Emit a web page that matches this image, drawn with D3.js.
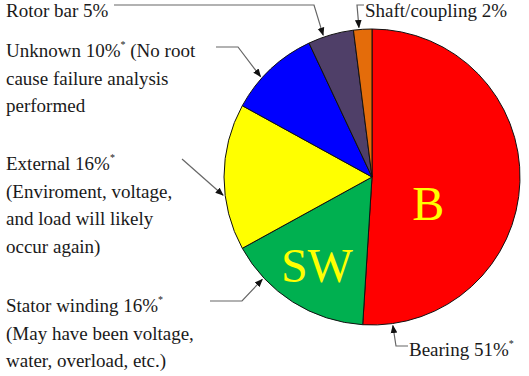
<!DOCTYPE html>
<html>
<head>
<meta charset="utf-8">
<script src="https://cdn.jsdelivr.net/npm/d3@7"></script>
<style>
  body { margin: 0; background: #fff; }
</style>
</head>
<body>
<svg id="chart" width="529" height="376"></svg>
<script>
// failure causes, clockwise from 12 o'clock
var causes = ['Bearing', 'Stator winding', 'External', 'Unknown', 'Rotor bar', 'Shaft/coupling'];
var shares = [51, 16, 16, 10, 5, 2];
var colours = ['#ff0000', '#00b050', '#ffff00', '#0000ff', '#4f3f68', '#e46c0a'];
var starred = [true, true, true, true, false, false];
var notes = [
  [],
  ['(May have been voltage,', 'water, overload, etc.)'],
  ['(Enviroment, voltage,', 'and load will likely', 'occur again)'],
  ['cause failure analysis', 'performed'],
  [],
  []
];
var inside = ['B', 'SW', '', '', '', ''];

var serif = "'Liberation Serif', 'Times New Roman', Times, serif";

var svg = d3.select('#chart'),
  cx = 372, cy = 177, r = 148,
  deg = Math.PI / 180;

var pie = d3.pie().sort(null).value(function(d) { return d; });
var arc = d3.arc().innerRadius(0).outerRadius(r);
var slices = pie(shares);

svg.append('defs').append('marker')
  .attr('id', 'arrow')
  .attr('viewBox', '0 0 10 10')
  .attr('refX', 9).attr('refY', 5)
  .attr('markerWidth', 7).attr('markerHeight', 7)
  .attr('orient', 'auto')
  .append('path')
  .attr('d', 'M0,1 L10,5 L0,9 z')
  .attr('fill', '#111');

var g = svg.append('g').attr('transform', 'translate(' + cx + ',' + cy + ')');

g.selectAll('path.slice')
  .data(slices)
  .enter().append('path')
  .attr('class', 'slice')
  .attr('d', arc)
  .attr('fill', function(d, i) { return colours[i]; })
  .attr('stroke', '#111')
  .attr('stroke-width', 1);

// big letters inside the two slices
var inner = [
  { i: 0, angle: 115, rad: 62 },
  { i: 1, angle: 212, rad: 104 }
];
inner.forEach(function(p) {
  g.append('text')
    .attr('font-family', serif)
    .attr('font-size', 48)
    .attr('fill', '#ffff00')
    .attr('text-anchor', 'middle')
    .attr('x', p.rad * Math.sin(p.angle * deg))
    .attr('y', -p.rad * Math.cos(p.angle * deg) + 17)
    .text(inside[p.i]);
});

// callouts: text spot, elbow points, where the arrow hits the rim
var callouts = [
  { i: 0, x: 409, y: 356, elbow: [[408, 346], [396, 346]], angle: 172 },
  { i: 1, x: 6, y: 312, elbow: [[210, 301], [242, 301]], angle: 227 },
  { i: 2, x: 6, y: 170, elbow: [[182, 159]], angle: 263 },
  { i: 3, x: 6, y: 57, elbow: [[216, 47], [238, 47]], angle: 312, first: ' (No root' },
  { i: 4, x: 6, y: 17, elbow: [[114, 5], [314, 5]], angle: 341 },
  { i: 5, x: 365, y: 17, elbow: [[364, 5], [357, 5]], angle: 355 }
];

var line = d3.line();

function note(x, y) {
  return svg.append('text')
    .attr('font-family', serif)
    .attr('font-size', 19)
    .attr('fill', '#1a1a1a')
    .attr('x', x).attr('y', y);
}

callouts.forEach(function(c) {
  var i = c.i,
    tip = [cx + (r + 2) * Math.sin(c.angle * deg), cy - (r + 2) * Math.cos(c.angle * deg)];

  svg.append('path')
    .attr('d', line(c.elbow.concat([tip])))
    .attr('fill', 'none')
    .attr('stroke', '#666')
    .attr('stroke-width', 1.2)
    .attr('marker-end', 'url(#arrow)');

  var t = note(c.x, c.y);
  t.append('tspan').text(causes[i] + ' ' + shares[i] + '%');
  if (starred[i]) t.append('tspan').attr('font-size', 10).attr('dy', -9).text('*');
  if (c.first) t.append('tspan').attr('dy', starred[i] ? 9 : 0).text(c.first);

  notes[i].forEach(function(s, k) {
    note(c.x, c.y + 27.5 * (k + 1)).text(s);
  });
});
</script>
</body>
</html>
